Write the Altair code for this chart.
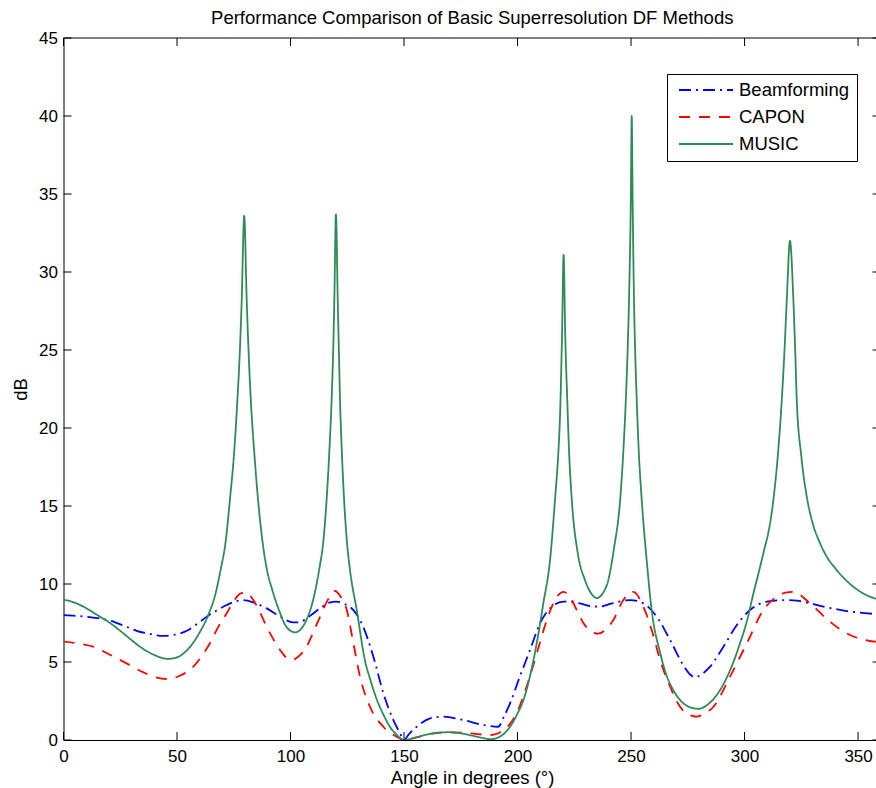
import altair as alt
import pandas as pd

# ---------------- data ----------------
methods = ["Beamforming", "CAPON", "MUSIC"]

bf_angle = [0, 10, 20.5, 27, 32.2, 38, 44, 49, 54.3, 58.5, 63.1, 67.5, 71.9, 76, 79.2, 84, 89.5, 95,
            101.2, 104, 108, 113, 117, 120.3, 124, 127.7, 132, 136.5, 140.9, 145.3, 148, 150, 152,
            155.6, 161.5, 167.3, 176.1, 185, 191.5, 194, 196.7, 201, 205.5, 209.9, 214.3, 220.2,
            227.5, 231.9, 236, 240.7, 245, 249.6, 255.4, 261.3, 267.2, 273, 276, 278.2, 281, 284.8,
            290.7, 296.6, 302.4, 309.8, 317.1, 323, 334.7, 346.5, 357.7, 360]
bf_db = [8.0, 7.9, 7.65, 7.3, 7.0, 6.8, 6.67, 6.75, 7.0, 7.4, 7.9, 8.3, 8.65, 8.9, 8.97, 8.8, 8.44, 7.95,
         7.54, 7.55, 7.9, 8.44, 8.8, 8.87, 8.7, 8.33, 7.26, 5.34, 3.0, 1.28, 0.5, 0.0, 0.35,
         0.85, 1.39, 1.5, 1.28, 0.96, 0.85, 1.5, 2.35, 4.06, 5.77, 7.48, 8.44, 8.87,
         8.76, 8.59, 8.55, 8.72, 8.88, 8.97, 8.76, 7.9, 6.41, 4.8, 4.2, 4.02, 4.2, 4.7,
         5.98, 7.37, 8.33, 8.87, 8.97, 8.93, 8.55, 8.23, 8.06, 8.0]

capon_angle = [0, 6, 13.1, 20, 27.8, 35, 40, 45.5, 51, 57.2, 61, 64.5, 68, 71.9, 75, 78, 80.5, 83.6,
               86.5, 89.5, 92.5, 95.4, 98, 100.5, 103.5, 107.1, 110, 113, 116.5, 119.6, 122, 124.8,
               127.7, 130.6, 135, 140.9, 146.8, 150, 155, 161.5, 170.3, 179, 187.9, 191, 193.7,
               196.5, 199.6, 204, 208.5, 212.9, 216.5, 220.2, 223, 226.1, 229, 232, 235.5, 239,
               242.2, 246.6, 251, 255.4, 259.1, 262.8, 267.2, 271.6, 275, 278.9, 282.5, 286.3,
               293.6, 301, 308.3, 314.2, 318, 321.5, 328.8, 337.6, 346.5, 352, 357.7, 360]
capon_db = [6.3, 6.2, 5.98, 5.5, 4.91, 4.35, 4.05, 3.91, 4.1, 4.7, 5.4, 6.2, 7.2, 8.12, 8.9, 9.4, 9.45, 8.97,
            8.2, 7.26, 6.45, 5.77, 5.3, 5.13, 5.35, 5.98, 6.9, 7.9, 9.0, 9.55, 9.2, 8.33,
            6.2, 4.06, 2.13, 0.85, 0.21, 0.0, 0.15, 0.38, 0.49, 0.43, 0.32, 0.4, 0.64,
            1.0, 1.71, 3.42, 5.56, 7.69, 8.97, 9.5, 9.2, 8.33, 7.5, 7.0, 6.82, 7.1,
            7.69, 8.97, 9.5, 8.55, 7.05, 5.13, 3.42, 2.13, 1.65, 1.5, 1.7, 2.13,
            4.06, 6.2, 8.33, 9.19, 9.45, 9.5, 8.76, 7.58, 6.73, 6.45, 6.3, 6.3]

music_angle = [0, 5, 10, 15, 20, 25, 30, 35, 40, 46, 50, 55, 60, 64, 67, 69.2, 71.5, 73.3, 75.2, 76.6,
               77.7, 78.5, 79.6, 80.7, 81.5, 82.5, 84, 85.7, 87.5, 89.5, 92, 95, 98, 102, 104.5,
               107, 110, 112.6, 114.5, 115.9, 117.1, 118.1, 118.8, 119.3, 120.0, 120.8, 121.3, 121.8,
               122.6, 123.6, 124.8, 126.2, 129.2, 132.8, 135.5, 138, 141, 143.8, 147, 150, 155, 160,
               165, 170, 175, 180, 185, 188, 192, 196.7, 200, 202.6, 205, 207, 209.3, 211.4, 214.3,
               216.5, 218, 218.7, 219.6, 220.3, 221.0, 221.9, 222.7, 223.9, 226.5, 229.7, 232, 234.9,
               237.5, 240, 242.5, 245.2, 246.6, 247.7, 248.5, 249.1, 249.9, 250.3, 250.7, 251.3,
               251.8, 252.5, 253.4, 254.7, 256.9, 259.1, 262.8, 265.5, 268.6, 272, 276, 279.7, 284,
               289.2, 294, 298, 301, 303.9, 306.5, 309, 310.5, 312.7, 314.8, 316.4, 317.6, 318.6,
               320.0, 321.5, 322.3, 323, 325, 327.4, 330, 333, 336, 340, 344.3, 350, 355, 360]
music_db = [9.0, 8.8, 8.45, 8.0, 7.55, 7.0, 6.4, 5.85, 5.45, 5.2, 5.3, 5.85, 6.9, 8.1, 9.4, 10.9, 12.8, 15.4,
            18.5, 21.8, 25, 28.2, 33.6, 28.2, 25, 21.8, 18.5, 15.4, 12.9, 11.0, 9.6, 8.3, 7.3, 6.9, 7.1,
            7.7, 9.0, 10.9, 12.8, 15.4, 18.5, 21.8, 25, 28.2, 33.7, 28.2, 25, 21.8,
            18.5, 15.4, 12.8, 10.9, 8.3, 5.1, 3.7, 2.6, 1.6, 0.85, 0.3, 0.0, 0.15, 0.35,
            0.47, 0.5, 0.43, 0.28, 0.12, 0.05, 0.2, 0.85, 1.7, 2.56, 3.8, 5.1, 6.9, 8.8, 11.5,
            15.4, 18.5, 20.7, 26, 31.1, 26, 21.8, 18.5, 15.4, 12.0, 10.26, 9.5, 9.1,
            9.4, 10.26, 12.3, 15.4, 18.5, 21.8, 25, 28.2, 34.6, 40.0, 34.6, 28.2,
            25, 21.8, 18.5, 15.4, 11.5, 8.3, 5.6, 4.2, 3.2, 2.5, 2.1, 2.0, 2.3,
            3.2, 4.6, 6.2, 7.6, 9.4, 10.9, 12.4, 13.3, 15.4, 18.5, 21.8, 25, 28.2,
            32.0, 28.2, 25, 21.8, 18.2, 15.6, 13.9, 12.7, 11.8, 11.0, 10.3, 9.6, 9.2, 9.0]

x_ticks = [0, 50, 100, 150, 200, 250, 300, 350]
y_ticks = [0, 5, 10, 15, 20, 25, 30, 35, 40, 45]

title_text = "Performance Comparison of Basic Superresolution DF Methods"
x_title = "Angle in degrees (°)"
y_title = "dB"

# ---------------- styling ----------------
colors = ["#0000ff", "#ff0000", "#2e8b57"]
dashes = [[12, 5, 2, 5], [11, 9], [1, 0]]
FONT = "Liberation Sans"
W, H = 812.5, 702
X_MAX = 357.9
TICK = 8

rows = []
for m, a, d in zip(methods, [bf_angle, capon_angle, music_angle], [bf_db, capon_db, music_db]):
    for i, (aa, dd) in enumerate(zip(a, d)):
        rows.append({"method": m, "angle": aa, "db": dd, "order": i})
df = pd.DataFrame(rows)

xscale = alt.Scale(domain=[0, X_MAX], nice=False, zero=False)
yscale = alt.Scale(domain=[0, 45], nice=False, zero=False)

legend = alt.Legend(title=None, orient="none", legendX=603.5, legendY=36)

lines = alt.Chart(df).mark_line(strokeWidth=1.8, clip=True, interpolate="monotone").encode(
    x=alt.X("angle:Q", scale=xscale,
            axis=alt.Axis(values=x_ticks, title=x_title, ticks=False, tickSize=0, labelPadding=8.5,
                          labelFlush=False, grid=False, titleX=408.5, titleY=43,
                          titleBaseline="alphabetic", titleAlign="center")),
    y=alt.Y("db:Q", scale=yscale,
            axis=alt.Axis(values=y_ticks, title=y_title, ticks=False, tickSize=0, labelPadding=6,
                          grid=False, titleAngle=270, titleX=-37.5, titleY=351,
                          titleBaseline="alphabetic", titleAlign="center")),
    color=alt.Color("method:N", scale=alt.Scale(domain=methods, range=colors), legend=legend),
    strokeDash=alt.StrokeDash("method:N", scale=alt.Scale(domain=methods, range=dashes), legend=legend),
    order="order:Q",
)

ydf = pd.DataFrame({"db": y_ticks})
xdf = pd.DataFrame({"angle": x_ticks})

left_ticks = alt.Chart(ydf).mark_rule(color="black", strokeWidth=1).encode(
    y=alt.Y("db:Q", scale=yscale), x=alt.value(0), x2=alt.value(TICK))
right_ticks = alt.Chart(ydf).mark_rule(color="black", strokeWidth=1).encode(
    y=alt.Y("db:Q", scale=yscale), x=alt.value(W - 3.5), x2=alt.value(W))
bottom_ticks = alt.Chart(xdf).mark_rule(color="black", strokeWidth=1).encode(
    x=alt.X("angle:Q", scale=xscale), y=alt.value(H - TICK), y2=alt.value(H))
top_ticks = alt.Chart(xdf).mark_rule(color="black", strokeWidth=1).encode(
    x=alt.X("angle:Q", scale=xscale), y=alt.value(0), y2=alt.value(TICK))
top_spine = alt.Chart(pd.DataFrame({"v": [0]})).mark_rule(color="black", strokeWidth=1).encode(
    x=alt.value(0), x2=alt.value(W), y=alt.value(0))

chart = alt.layer(lines, left_ticks, right_ticks, bottom_ticks, top_ticks, top_spine).properties(
    width=W, height=H,
    padding={"left": 63.5, "top": 38, "right": 0, "bottom": 48},
    autosize=alt.AutoSizeParams(type="none"),
    title=alt.TitleParams(title_text, font=FONT, fontSize=18.5, fontWeight="normal", color="black",
                          anchor="middle", offset=0, baseline="alphabetic", dx=2.5, dy=13),
).configure_view(stroke=None).configure_axis(
    domainColor="black", domainWidth=1, labelFont=FONT, labelFontSize=17, labelColor="black",
    titleFont=FONT, titleFontSize=18.5, titleFontWeight="normal", titleColor="black",
).configure_legend(
    symbolType="stroke", symbolSize=2916, symbolStrokeWidth=1.8, labelFont=FONT, labelFontSize=18.5,
    labelColor="black", strokeColor="black", fillColor="white", padding=7, cornerRadius=0,
    labelOffset=5, symbolOffset=4, rowPadding=8, clipHeight=18,
)

chart.save("out.html", embed_options={"renderer": "svg", "actions": False})
